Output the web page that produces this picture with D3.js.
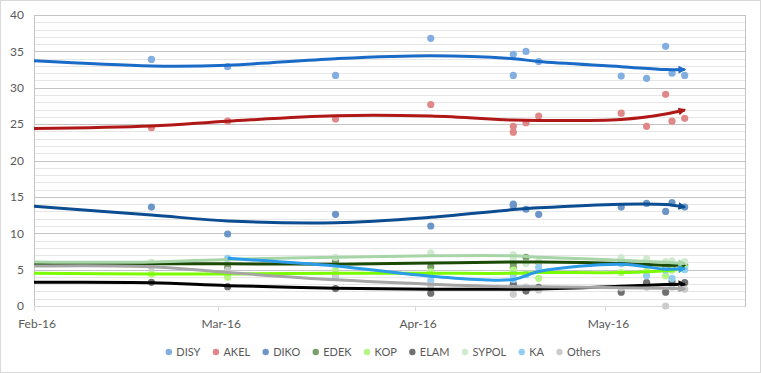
<!DOCTYPE html>
<html>
<head>
<meta charset="utf-8">
<script src="https://cdn.jsdelivr.net/npm/d3@7"></script>
<style>
  body { margin: 0; background: #fff; }
  text { font-family: Lato, "Open Sans", sans-serif; font-size: 12px; fill: #595959; }
  .legend text { font-size: 11px; }
</style>
</head>
<body>
<svg id="chart" width="761" height="373"></svg>
<script>
// poll dates (two polls on 16 Apr)
const pollDates = ["2016-02-19", "2016-03-02", "2016-03-19", "2016-04-03", "2016-04-16", "2016-04-16",
  "2016-04-18", "2016-04-20", "2016-05-03", "2016-05-07", "2016-05-10", "2016-05-11", "2016-05-13"];

const disy  = [33.9, 32.9, 31.7, 36.8, 34.6, 31.7, 35.0, 33.6, 31.6, 31.3, 35.7, 32.0, 31.7];
const akel  = [24.5, 25.4, 25.7, 27.7, 24.7, 23.9, 25.2, 26.1, 26.5, 24.7, 29.1, 25.4, 25.8];
const diko  = [13.6, 9.9, 12.6, 11.0, 14.0, 13.8, 13.3, 12.6, 13.6, 14.1, 13.0, 14.2, 13.6];
const edek  = [5.6, 5.3, 6.15, 5.4, 5.85, 5.3, 6.7, 6.0, 6.0, 5.7, 5.5, 5.4, 5.6];
const kop   = [4.4, 3.95, 4.85, 4.7, 4.95, 4.6, 4.35, 3.8, 4.6, 4.8, 4.15, 4.9, 5.25];
const elam  = [3.25, 2.65, 2.4, 1.75, 3.0, 2.6, 2.05, 2.55, 1.9, 3.2, 1.9, 3.35, 3.2];
const sypol = [6.0, 6.3, 6.7, 7.3, 7.05, 6.6, 5.85, 6.1, 6.65, 6.5, 6.1, 6.2, 6.1];
const ka    = [null, 6.55, 4.1, 3.5, 3.65, 4.3, 4.3, 5.3, 5.8, 4.15, 4.9, 3.8, 5.0];
const others = [5.4, 4.9, 4.3, 2.8, 1.6, 2.4, 2.6, 2.2, 2.5, 2.6, 0.0, 2.6, 2.3];

// trend lines
const trendDates = ["2016-02-01", "2016-02-19", "2016-03-02", "2016-03-19", "2016-04-03",
  "2016-04-16", "2016-04-20", "2016-05-03", "2016-05-10", "2016-05-13"];
const disyTrend   = [33.7, 33.0, 33.1, 34.0, 34.4, 34.0, 33.6, 32.9, 32.5, 32.5];
const akelTrend   = [24.4, 24.75, 25.4, 26.15, 26.1, 25.55, 25.5, 25.65, 26.4, 26.95];
const dikoTrend   = [13.7, 12.5, 11.7, 11.45, 12.2, 13.25, 13.5, 14.0, 13.95, 13.6];
const edekTrend   = [5.85, 5.8, 5.8, 5.75, 5.9, 6.05, 6.05, 5.85, 5.6, 5.6];
const kopTrend    = [4.5, 4.4, 4.4, 4.5, 4.5, 4.5, 4.6, 4.6, 4.85, 5.2];
const elamTrend   = [3.25, 3.2, 2.8, 2.45, 2.3, 2.3, 2.35, 2.7, 2.95, 3.0];
const sypolTrend  = [6.05, 6.05, 6.4, 6.7, 6.9, 6.9, 6.7, 6.3, 6.0, 5.85];
const kaTrend     = [null, null, 6.55, 5.5, 4.1, 3.65, 4.75, 5.75, 5.05, 5.15];
const othersTrend = [5.5, 5.4, 4.6, 3.6, 3.0, 2.65, 2.65, 2.5, 2.45, 2.35];

const yTicks = [0, 5, 10, 15, 20, 25, 30, 35, 40];
const monthTicks = ["2016-02-01", "2016-03-01", "2016-04-01", "2016-05-01"];

const parties = [
  { name: "DISY",   values: disy,   trend: disyTrend,   dot: "#82aee2", line: "#1a6bc7" },
  { name: "AKEL",   values: akel,   trend: akelTrend,   dot: "#e08888", line: "#b01818" },
  { name: "DIKO",   values: diko,   trend: dikoTrend,   dot: "#6c96c8", line: "#0c4d92" },
  { name: "EDEK",   values: edek,   trend: edekTrend,   dot: "#7a9e6a", line: "#1b4a04" },
  { name: "KOP",    values: kop,    trend: kopTrend,    dot: "#b6f584", line: "#7cfc00" },
  { name: "ELAM",   values: elam,   trend: elamTrend,   dot: "#707070", line: "#000000" },
  { name: "SYPOL",  values: sypol,  trend: sypolTrend,  dot: "#d0ead0", line: "#a8d5a8" },
  { name: "KA",     values: ka,     trend: kaTrend,     dot: "#94cdf2", line: "#2c9ce8" },
  { name: "Others", values: others, trend: othersTrend, dot: "#cccccc", line: "#a6a6a6" }
];

const W = 761, H = 373;
const PLOT = { left: 34, right: 745, top: 15, bottom: 306 };
const parse = d3.timeParse("%Y-%m-%d");
const start = parse("2016-02-01");

const svg = d3.select("#chart");

const x = d3.scaleTime().domain([start, parse("2016-05-23")]).range([PLOT.left, PLOT.right]);
const y = d3.scaleLinear().domain([0, 40]).range([PLOT.bottom, PLOT.top]);
// points sit in the middle of their day slot
const xDay = d => x(d3.timeHour.offset(d, 12));
const xTrend = d => +d === +start ? x(d) : xDay(d);

// outer border
svg.append("rect").attr("x", 0.5).attr("y", 0.5).attr("width", W - 1).attr("height", H - 1)
  .attr("fill", "#fff").attr("stroke", "#d9d9d9");

// gridlines
const grid = svg.append("g");
grid.selectAll(".minor")
  .data(d3.range(1, 40).filter(v => v % 5 !== 0))
  .enter().append("line")
  .attr("x1", PLOT.left).attr("x2", PLOT.right)
  .attr("y1", d => Math.round(y(d)) + 0.5).attr("y2", d => Math.round(y(d)) + 0.5)
  .attr("stroke", "#e6e6e6");
grid.selectAll(".major")
  .data(yTicks.filter(v => v > 0))
  .enter().append("line")
  .attr("x1", PLOT.left).attr("x2", PLOT.right)
  .attr("y1", d => Math.round(y(d)) + 0.5).attr("y2", d => Math.round(y(d)) + 0.5)
  .attr("stroke", "#c4c4c4");
// right border and left axis
grid.append("line").attr("x1", PLOT.right + 0.5).attr("x2", PLOT.right + 0.5)
  .attr("y1", y(40)).attr("y2", y(0)).attr("stroke", "#c4c4c4");
grid.append("line").attr("x1", PLOT.left + 0.5).attr("x2", PLOT.left + 0.5)
  .attr("y1", y(40)).attr("y2", y(0)).attr("stroke", "#c4c4c4");
// bottom axis
grid.append("line").attr("x1", PLOT.left).attr("x2", PLOT.right + 1)
  .attr("y1", Math.round(y(0)) + 0.5).attr("y2", Math.round(y(0)) + 0.5).attr("stroke", "#d9d9d9");
grid.selectAll(".tick")
  .data(monthTicks.map(parse))
  .enter().append("line")
  .attr("x1", d => Math.round(x(d)) + 0.5).attr("x2", d => Math.round(x(d)) + 0.5)
  .attr("y1", y(0)).attr("y2", y(0) + 5)
  .attr("stroke", "#d9d9d9");

// axis labels
svg.append("g").selectAll("text")
  .data(yTicks)
  .enter().append("text")
  .attr("x", 24).attr("y", d => y(d)).attr("dy", "0.36em")
  .attr("text-anchor", "end")
  .text(d => d);

const fmt = d3.timeFormat("%b-%y");
svg.append("g").selectAll("text")
  .data(monthTicks.map(parse))
  .enter().append("text")
  .attr("x", d => xDay(d)).attr("y", 328)
  .attr("text-anchor", "middle")
  .text(d => fmt(d));

// arrow heads
const defs = svg.append("defs");
parties.forEach((p, i) => {
  defs.append("marker")
    .attr("id", "arrow" + i)
    .attr("viewBox", "0 0 10 10")
    .attr("refX", 8).attr("refY", 5)
    .attr("markerWidth", 2.8).attr("markerHeight", 2.6)
    .attr("orient", "auto")
    .append("path").attr("d", "M0,0L10,5L0,10z").attr("fill", p.line);
});

// dots
const pd = pollDates.map(parse);
parties.forEach(p => {
  svg.append("g").selectAll("circle")
    .data(p.values.map((v, i) => ({ date: pd[i], v })).filter(d => d.v !== null))
    .enter().append("circle")
    .attr("cx", d => xDay(d.date))
    .attr("cy", d => y(d.v))
    .attr("r", 3.6)
    .attr("fill", p.dot);
});

// trend lines
const td = trendDates.map(parse);
const lineGen = d3.line()
  .defined(d => d.v !== null)
  .x(d => xTrend(d.date))
  .y(d => y(d.v))
  .curve(d3.curveCatmullRom.alpha(0.5));

parties.forEach((p, i) => {
  const pts = p.trend.map((v, j) => ({ date: td[j], v })).filter(d => d.v !== null);
  svg.append("path")
    .datum(pts)
    .attr("d", lineGen)
    .attr("fill", "none")
    .attr("stroke", p.line)
    .attr("stroke-width", 3)
    .attr("stroke-linejoin", "round")
    .attr("marker-end", `url(#arrow${i})`);
});

// legend
const legend = svg.append("g").attr("class", "legend");
let lx = 0;
parties.forEach(p => {
  const g = legend.append("g").attr("transform", `translate(${lx},0)`);
  g.append("circle").attr("r", 3.2).attr("fill", p.dot);
  const t = g.append("text").attr("x", 7.5).attr("dy", "0.35em").text(p.name);
  lx += 7.5 + t.node().getComputedTextLength() + 15.5;
});
const legendW = lx - 15.5 + 3.2;
legend.attr("transform", `translate(${383 - legendW / 2 + 3.2},352)`);
</script>
</body>
</html>
